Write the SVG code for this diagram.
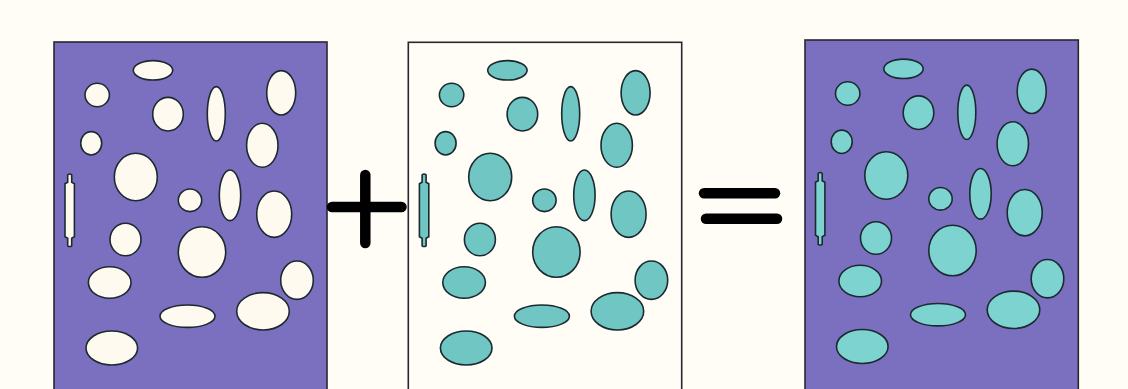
<svg xmlns="http://www.w3.org/2000/svg" xmlns:xlink="http://www.w3.org/1999/xlink" width="1128" height="389" viewBox="0 0 1128 389">
<style>
.panel{stroke:#2a2630;stroke-width:1.6}
.blob{stroke:#1c2a30;stroke-width:1.6}
.op{stroke:#000;stroke-width:10.5;stroke-linecap:round;fill:none}
</style>
<defs>
<g id="blobs" class="blob">
<ellipse cx="153" cy="70.3" rx="19.7" ry="9.7"/>
<ellipse cx="97.2" cy="95" rx="12.2" ry="11.7"/>
<ellipse cx="168" cy="114.2" rx="15.3" ry="16.8"/>
<ellipse cx="216.3" cy="113.8" rx="9" ry="27.2"/>
<ellipse cx="281.2" cy="92.8" rx="14.5" ry="22.2"/>
<ellipse cx="91.2" cy="143.3" rx="10.5" ry="11.7"/>
<ellipse cx="262.3" cy="145.3" rx="15.7" ry="22"/>
<ellipse cx="135.8" cy="177" rx="21.5" ry="23.7"/>
<path transform="translate(69.7,210.3)" d="M-2,-35.5 Q0,-37 2,-35.5 L2,-28 L4.7,-26.5 L4.7,26.5 L2,28 L2,35.5 Q0,37 -2,35.5 L-2,28 L-4.7,26.5 L-4.7,-26.5 L-2,-28 Z"/>
<ellipse cx="190" cy="200.3" rx="11.7" ry="11.3"/>
<ellipse cx="230" cy="195.3" rx="10.7" ry="25.3"/>
<ellipse cx="274.2" cy="214.2" rx="17.5" ry="23.2"/>
<ellipse cx="125.5" cy="239.5" rx="15.5" ry="16.2"/>
<ellipse cx="202" cy="252" rx="23.7" ry="25.3"/>
<ellipse cx="109.7" cy="282.5" rx="21.3" ry="15.8"/>
<ellipse cx="297" cy="280.2" rx="16.3" ry="19.2"/>
<ellipse cx="187.5" cy="316.2" rx="27.5" ry="11.2"/>
<ellipse cx="263" cy="311.3" rx="26.3" ry="18.7"/>
<ellipse cx="111.8" cy="348" rx="25.8" ry="17"/>
</g>
</defs>
<rect width="1128" height="389" fill="#fffdf6"/>
<g id="panel-matrix">
<rect class="panel" x="54" y="42" width="273" height="352" fill="#7b6fc0"/>
<use xlink:href="#blobs" fill="#fffaf0"/>
</g>
<g id="op-plus">
<line class="op" x1="365.3" y1="175" x2="365.3" y2="243"/>
<line class="op" x1="332" y1="207" x2="401.5" y2="207"/>
</g>
<g id="panel-particles">
<rect class="panel" x="408.3" y="42.3" width="273.4" height="352" fill="#fffdf6"/>
<use xlink:href="#blobs" fill="#6fc6c3" transform="translate(354.4,0)"/>
</g>
<g id="op-equals">
<line class="op" x1="704" y1="193.3" x2="775" y2="193.3"/>
<line class="op" x1="706" y1="218.7" x2="777" y2="218.7"/>
</g>
<g id="panel-composite">
<rect class="panel" x="805" y="40" width="273.3" height="354" fill="#7b6fc0"/>
<use xlink:href="#blobs" fill="#7dd3cf" transform="translate(750.5,-1.5)"/>
</g>
</svg>
